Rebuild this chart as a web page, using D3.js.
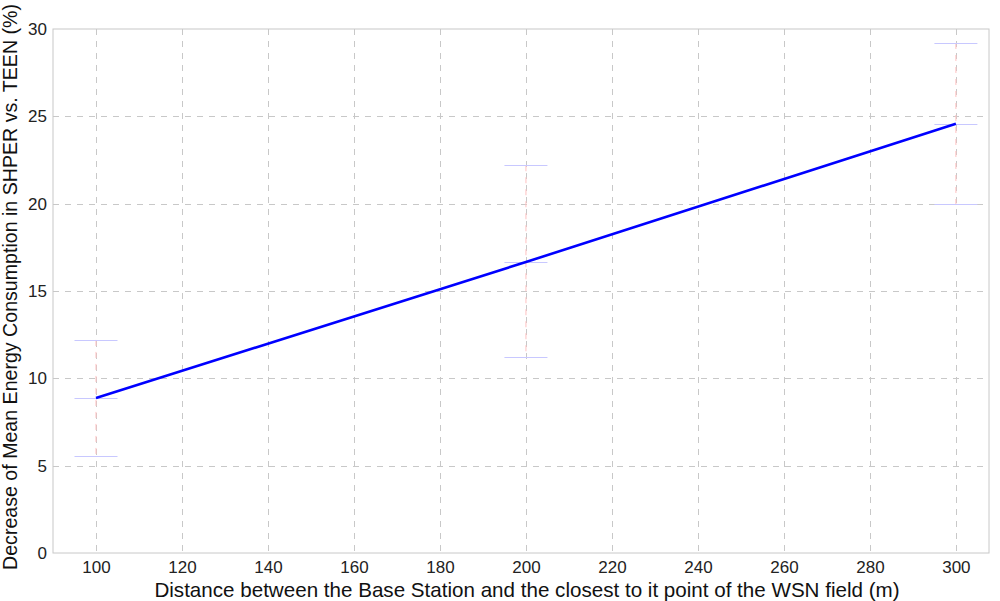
<!DOCTYPE html>
<html><head><meta charset="utf-8">
<script src="https://cdn.jsdelivr.net/npm/d3@7"></script>
<style>body{margin:0;background:#fff;} text{font-family:"Liberation Sans",Arial,sans-serif;}</style>
</head><body>
<svg id="c" width="1000" height="601"></svg>
<script>
const distances = [100, 200, 300];
const meanDecrease = [8.87, 16.66, 24.58];
const upperBound = [12.2, 22.2, 29.2];
const lowerBound = [5.55, 11.2, 19.98];
const xTicks = [100, 120, 140, 160, 180, 200, 220, 240, 260, 280, 300];
const yTicks = [0, 5, 10, 15, 20, 25, 30];
const xLabel = "Distance between the Base Station and the closest to it point of the WSN field (m)";
const yLabel = "Decrease of Mean Energy Consumption in SHPER vs. TEEN (%)";

const svg = d3.select("#c");
const L = 53, R = 989, T = 29, B = 553;
const x = d3.scaleLinear().domain([90, 307.7]).range([L, R]);
const y = d3.scaleLinear().domain([0, 30]).range([B, T]);

// box
svg.append("rect").attr("x", L).attr("y", T).attr("width", R - L).attr("height", B - T)
  .attr("fill", "#fff").attr("stroke", "#c8c8c8").attr("stroke-width", 1);

// grid
svg.append("g").selectAll("line").data(xTicks).join("line")
  .attr("x1", d => Math.round(x(d)) + 0.5).attr("x2", d => Math.round(x(d)) + 0.5)
  .attr("y1", T).attr("y2", B)
  .attr("stroke", "#c8c8c8").attr("stroke-dasharray", "6,6");
svg.append("g").selectAll("line").data(yTicks.slice(1, -1)).join("line")
  .attr("x1", L).attr("x2", R)
  .attr("y1", d => Math.round(y(d)) + 0.5).attr("y2", d => Math.round(y(d)) + 0.5)
  .attr("stroke", "#c8c8c8").attr("stroke-dasharray", "6,6");

// axes
const xAxis = svg.append("g").attr("transform", `translate(0,${B})`)
  .call(d3.axisBottom(x).tickValues(xTicks).tickSize(0).tickPadding(8));
const yAxis = svg.append("g").attr("transform", `translate(${L},0)`)
  .call(d3.axisLeft(y).tickValues(yTicks).tickSize(0).tickPadding(6));
[xAxis, yAxis].forEach(a => {
  a.select(".domain").remove();
  a.selectAll("text").attr("font-size", 17).attr("fill", "#222")
    .attr("font-family", "Liberation Sans, Arial, sans-serif");
});

// error bars
const idx = d3.range(distances.length);
svg.append("g").selectAll("line").data(idx).join("line")
  .attr("x1", i => x(distances[i])).attr("x2", i => x(distances[i]))
  .attr("y1", i => y(upperBound[i])).attr("y2", i => y(lowerBound[i]))
  .attr("stroke", "#ffc0c0").attr("stroke-width", 1).attr("stroke-dasharray", "6,6");
const caps = [];
idx.forEach(i => { caps.push([i, upperBound[i]], [i, meanDecrease[i]], [i, lowerBound[i]]); });
svg.append("g").selectAll("line").data(caps).join("line")
  .attr("x1", d => x(distances[d[0]] - 5)).attr("x2", d => x(distances[d[0]] + 5))
  .attr("y1", d => Math.round(y(d[1])) + 0.5).attr("y2", d => Math.round(y(d[1])) + 0.5)
  .attr("stroke", "#c8c8ff").attr("stroke-width", 1.2);

// mean line
svg.append("path").datum(idx)
  .attr("d", d3.line().x(i => x(distances[i])).y(i => y(meanDecrease[i])))
  .attr("fill", "none").attr("stroke", "#0000ff").attr("stroke-width", 2.6);

// labels
svg.append("text").attr("x", 527).attr("y", 597).attr("text-anchor", "middle")
  .attr("font-size", 20.6).attr("fill", "#111").text(xLabel);
svg.append("text").attr("transform", `translate(17,287) rotate(-90)`)
  .attr("text-anchor", "middle").attr("font-size", 19.6).attr("fill", "#111").text(yLabel);
</script>
</body></html>
